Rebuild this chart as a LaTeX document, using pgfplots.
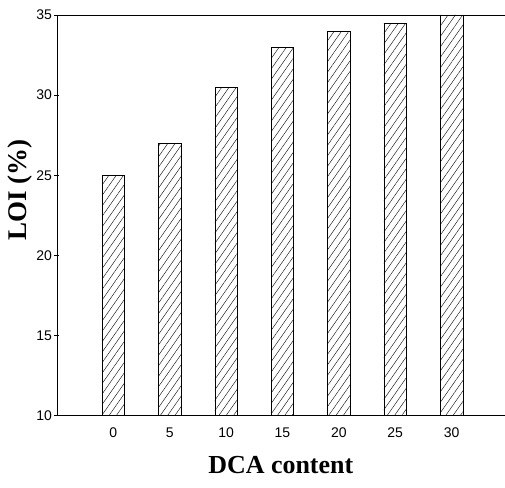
\documentclass[border=0pt]{standalone}
\usepackage{fontspec}
\setmainfont{Liberation Sans}
\newfontfamily\lserif{Liberation Serif}
\usepackage{pgfplots}
\pgfplotsset{compat=1.18}
\usetikzlibrary{patterns.meta}
\begin{document}
\begin{tikzpicture}
\begin{axis}[
  at={(0,0)}, anchor=south west,
  scale only axis, width=448pt, height=401pt,
  xmin=-5, xmax=34.7, ymin=10, ymax=35,
  axis y line*=left, axis x line*=bottom,
  xtick={0,5,10,15,20,25,30},
  ytick={10,15,20,25,30,35},
  x tick style={draw=none},
  y tick style={black, line width=0.6pt},
  major tick length=5pt,
  tick align=center,
  axis line style={line width=0.8pt},
  tick label style={font=\fontsize{14}{16}\selectfont},
  /pgf/number format/assume math mode=true,
  xticklabel style={yshift=-6pt},
  yticklabel style={xshift=1pt},
  xlabel={\lserif\bfseries\fontsize{26}{30}\selectfont DCA content},
  ylabel={\lserif\bfseries\fontsize{27}{30}\selectfont LOI (\%)},
  xlabel style={at={(rel axis cs:0.5,0)}, anchor=center, yshift=-49pt},
  ylabel style={at={(rel axis cs:0,0.564)}, anchor=center, yshift=37pt},
  clip=false,
]
\addplot[ybar, bar width=2, draw=black, line width=0.6pt,
  pattern={Lines[angle=55,distance=6pt,line width=0.4pt]}, pattern color=black]
  coordinates {(0,25) (5,27) (10,30.5) (15,33) (20,34) (25,34.5) (30,35)};
\draw[line width=0.8pt] (rel axis cs:0,1) -- (rel axis cs:1,1);
\end{axis}
\useasboundingbox (-57pt,-72pt) rectangle (448pt,416pt);
\end{tikzpicture}
\end{document}
